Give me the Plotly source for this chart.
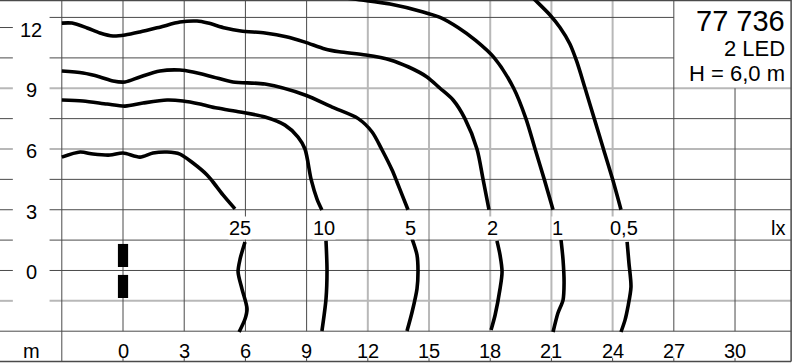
import plotly.graph_objects as go

# ---------------- data ----------------
x_ticks = [0, 3, 6, 9, 12, 15, 18, 21, 24, 27, 30]
y_ticks = [0, 3, 6, 9, 12]
x_unit = "m"
lux_unit = "lx"
title_main = "77 736"
title_sub1 = "2 LED"
title_sub2 = "H = 6,0 m"

lux_labels = ["25", "10", "5", "2", "1", "0,5"]

# isolux curves: upper branch (y > 3) and lower branch (y < 1.5)
c25_up_x = [-3.0, -2.1, -1.47, -0.64, 0.0, 0.83, 1.47, 2.16, 2.79, 3.43, 4.12, 4.41, 4.9, 5.49]
c25_up_y = [5.6, 5.85, 5.75, 5.7, 5.8, 5.6, 5.8, 5.85, 5.75, 5.31, 4.72, 4.37, 3.73, 3.04]
c25_lo_x = [5.98, 5.74, 5.64, 5.83, 6.08, 5.98, 5.69]
c25_lo_y = [1.41, 0.57, -0.07, -0.91, -1.9, -2.4, -3.04]

c10_up_x = [-3.0, -1.96, -0.78, 0.1, 0.98, 2.16, 2.94, 3.77, 4.61, 5.74, 6.96, 7.94, 8.58, 8.92, 9.22, 9.51, 9.75]
c10_up_y = [8.42, 8.37, 8.22, 8.12, 8.27, 8.42, 8.37, 8.22, 8.02, 7.83, 7.58, 7.18, 6.59, 6.0, 4.5, 3.53, 2.99]
c10_lo_x = [9.95, 10.0, 9.95, 9.75]
c10_lo_y = [1.46, -0.02, -1.41, -2.99]

c5_up_x = [-3.0, -1.96, -1.13, -0.49, 0.1, 0.83, 1.81, 2.79, 3.43, 4.41, 5.39, 6.96, 8.92, 10.25, 11.53, 12.21, 12.7, 13.19, 13.43, 13.68, 13.97]
c5_up_y = [9.85, 9.75, 9.56, 9.36, 9.31, 9.56, 9.85, 9.9, 9.8, 9.56, 9.31, 9.21, 8.67, 8.07, 7.5, 6.84, 5.95, 4.96, 4.37, 3.73, 3.0]
c5_lo_x = [14.17, 14.41, 14.46, 14.41, 14.17, 13.92]
c5_lo_y = [1.56, 0.77, -0.02, -0.91, -2.05, -2.99]

c2_up_x = [-3.0, -2.5, -1.76, -1.13, -0.49, 0.1, 0.83, 1.81, 2.79, 3.63, 4.17, 5.0, 5.78, 6.96, 8.0, 8.92, 9.9, 10.6, 11.9, 13.1, 14.0, 14.9, 15.54, 16.18, 16.76, 17.35, 17.65, 17.94]
c2_up_y = [12.22, 12.22, 11.98, 11.73, 11.58, 11.63, 11.78, 12.02, 12.27, 12.32, 12.22, 11.98, 11.83, 11.73, 11.55, 11.28, 10.94, 10.8, 10.64, 10.4, 10.05, 9.56, 9.0, 8.42, 7.5, 6.0, 4.5, 3.0]
c2_lo_x = [18.33, 18.48, 18.58, 18.48, 18.24, 18.04]
c2_lo_y = [1.46, 0.77, -0.07, -0.91, -2.2, -2.94]

c1_up_x = [11.0, 11.7, 13.09, 14.71, 15.54, 16.42, 17.3, 18.2, 19.15, 19.75, 20.2, 20.65, 21.08]
c1_up_y = [13.45, 13.36, 13.16, 12.77, 12.5, 12.0, 11.35, 10.5, 9.0, 7.5, 6.0, 4.5, 3.0]
c1_lo_x = [21.47, 21.57, 21.62, 21.57, 21.32, 21.08]
c1_lo_y = [1.51, 0.52, -0.62, -1.46, -2.1, -3.04]

c05_up_x = [20.06, 20.2, 20.93, 21.42, 21.9, 22.25, 22.65, 23.1, 23.55, 24.0, 24.41]
c05_up_y = [13.5, 13.36, 12.62, 12.0, 11.2, 10.3, 9.0, 7.5, 6.0, 4.5, 3.0]
c05_lo_x = [24.71, 24.8, 24.9, 24.75, 24.61, 24.41]
c05_lo_y = [1.41, 0.37, -0.81, -1.8, -2.44, -3.04]

# luminaire (2 LEDs) at x = 0
led_x = [0, 0]
led_y_bottom = [0.17, -1.36]
led_y_top = [1.31, -0.22]

# grid
grid_dark_x = [-3, 0, 3, 6, 9, 27, 30]
grid_light_x = [12, 15, 18, 21, 24]
grid_dark_y = [12.5, 10.5, 7.5, 4.5, 3, 1.5, 0]
grid_light_y = [9, 6, -1.5]
left_tick_y = [12, 10.5, 9, 7.5, 6, 4.5, 3, 1.5, 0, -1.5]

# ---------------- layout constants ----------------
X_MIN, X_MAX = -6.03, 32.94
Y_MIN, Y_MAX = -4.62, 13.36
FR_R = 32.75        # right frame
FR_B = -4.5         # bottom frame
AX_L = -3           # plot left edge (label column boundary)
AX_B = -3           # plot bottom edge (label row boundary)
GRID_START = -3.6
LAB_COL = -4.5
LAB_ROW = -4.0
FONT = "Liberation Sans, Arial, Helvetica, sans-serif"
DARK = "#4a4a4a"
LIGHT = "#b8b8b8"

fig = go.Figure()

curves = [
    (c25_up_x, c25_up_y, c25_lo_x, c25_lo_y),
    (c10_up_x, c10_up_y, c10_lo_x, c10_lo_y),
    (c5_up_x, c5_up_y, c5_lo_x, c5_lo_y),
    (c2_up_x, c2_up_y, c2_lo_x, c2_lo_y),
    (c1_up_x, c1_up_y, c1_lo_x, c1_lo_y),
    (c05_up_x, c05_up_y, c05_lo_x, c05_lo_y),
]

annotations = []
for lab, (ux, uy, lx, ly) in zip(lux_labels, curves):
    for xs, ys in ((ux, uy), (lx, ly)):
        fig.add_trace(go.Scatter(
            x=xs, y=ys, mode="lines",
            line=dict(color="black", width=3.6, shape="spline", smoothing=0.8),
            hoverinfo="skip", showlegend=False))
    annotations.append(dict(
        x=(ux[-1] + lx[0]) / 2, y=2.1, text=lab, showarrow=False,
        font=dict(family=FONT, size=20, color="black"),
        bgcolor="white", borderpad=0, xanchor="center", yanchor="middle"))

annotations.append(dict(x=FR_R - 0.2, y=2.1, text=lux_unit, showarrow=False,
                        font=dict(family=FONT, size=20, color="black"),
                        xanchor="right", yanchor="middle"))

for v in y_ticks:
    annotations.append(dict(x=LAB_COL, y=v - 0.1, text=str(v), showarrow=False,
                            font=dict(family=FONT, size=20, color="black"),
                            xanchor="center", yanchor="middle"))
for v in x_ticks:
    annotations.append(dict(x=v, y=LAB_ROW, text=str(v), showarrow=False,
                            font=dict(family=FONT, size=20, color="black"),
                            xanchor="center", yanchor="middle"))
annotations.append(dict(x=LAB_COL, y=LAB_ROW, text=x_unit, showarrow=False,
                        font=dict(family=FONT, size=20, color="black"),
                        xanchor="center", yanchor="middle"))

annotations.append(dict(x=FR_R - 0.2, y=12.32, text=title_main, showarrow=False,
                        font=dict(family=FONT, size=29, color="black"),
                        xanchor="right", yanchor="middle"))
annotations.append(dict(x=FR_R - 0.2, y=10.94, text=title_sub1, showarrow=False,
                        font=dict(family=FONT, size=22, color="black"),
                        xanchor="right", yanchor="middle"))
annotations.append(dict(x=FR_R - 0.2, y=9.75, text=title_sub2, showarrow=False,
                        font=dict(family=FONT, size=22, color="black"),
                        xanchor="right", yanchor="middle"))

shapes = []

def seg(x0, y0, x1, y1, color, width):
    shapes.append(dict(type="line", xref="x", yref="y", x0=x0, y0=y0, x1=x1, y1=y1,
                       line=dict(color=color, width=width), layer="below"))

for v in grid_light_x:
    seg(v, AX_B, v, Y_MAX, LIGHT, 2)
for v in grid_light_y:
    seg(GRID_START, v, FR_R, v, LIGHT, 2)
for v in grid_light_y:
    if v in left_tick_y:
        seg(X_MIN, v, -5.4, v, LIGHT, 2)
for v in grid_dark_x:
    if v == AX_L:
        seg(v, FR_B, v, Y_MAX, DARK, 1)
    elif v == 30:
        seg(v, AX_B, v, 9, DARK, 1)
    else:
        seg(v, AX_B, v, Y_MAX, DARK, 1)
for v in grid_dark_y:
    x1 = 27 if v > 9 else FR_R
    seg(GRID_START, v, x1, v, DARK, 1)
for v in left_tick_y:
    if v not in grid_light_y:
        seg(X_MIN, v, -5.4, v, DARK, 1)
# frame
seg(X_MIN, AX_B, FR_R, AX_B, DARK, 1)
seg(X_MIN, FR_B, FR_R, FR_B, DARK, 1.5)
seg(X_MIN, Y_MAX - 0.03, FR_R, Y_MAX - 0.03, DARK, 1.5)
seg(FR_R, FR_B, FR_R, Y_MAX, DARK, 1.5)
for v in x_ticks:
    seg(v, FR_B, v, FR_B + 0.17, DARK, 1)

# luminaire
for xc, y0, y1 in zip(led_x, led_y_bottom, led_y_top):
    shapes.append(dict(type="rect", xref="x", yref="y", x0=xc - 0.25, x1=xc + 0.25,
                       y0=y0, y1=y1, fillcolor="black", line=dict(width=0), layer="above"))

fig.update_layout(
    width=795, height=364,
    margin=dict(l=0, r=0, t=0, b=0),
    paper_bgcolor="white", plot_bgcolor="white",
    xaxis=dict(range=[X_MIN, X_MAX], visible=False, fixedrange=True),
    yaxis=dict(range=[Y_MIN, Y_MAX], visible=False, fixedrange=True),
    shapes=shapes, annotations=annotations,
    showlegend=False,
)

fig.write_html("out.html")
